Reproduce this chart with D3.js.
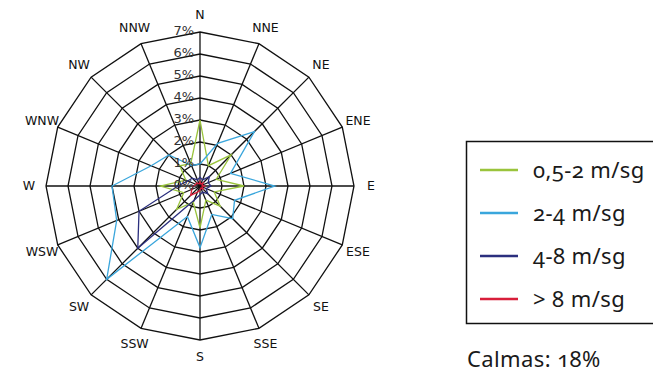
<!DOCTYPE html>
<html>
<head>
<meta charset="utf-8">
<script src="https://cdn.jsdelivr.net/npm/d3@7"></script>
<style>
  body { margin: 0; background: #fff; }
  svg { display: block; }
  .num { font-variant-numeric: oldstyle-nums; font-feature-settings: "onum" 1; }
</style>
</head>
<body>
<div id="chart"></div>
<script>
// direcciones (en sentido horario desde el N)
const directions = ["N","NNE","NE","ENE","E","ESE","SE","SSE","S","SSW","SW","WSW","W","WNW","NW","NNW"];
const tickValues = [0, 1, 2, 3, 4, 5, 6, 7];
const tickLabels = ["0%","1%","2%","3%","4%","5%","6%","7%"];

// frecuencias (%) por direccion
const speed0520 = [3.0, 1.0, 2.0, 0.8, 2.0, 0.7, 1.3, 0.7, 1.9, 0.8, 1.5, 0.8, 1.8, 0.7, 1.3, 1.1];
const speed24   = [1.0, 2.1, 3.5, 1.5, 3.4, 1.7, 2.1, 1.4, 2.8, 1.5, 6.0, 4.1, 4.0, 2.4, 2.0, 1.0];
const speed48   = [0.4, 0.3, 0.6, 0.4, 0.5, 0.3, 0.5, 0.3, 0.4, 0.7, 4.0, 3.0, 1.0, 0.6, 0.5, 0.3];
const speed8    = [0.2, 0.1, 0.2, 0.1, 0.2, 0.1, 0.2, 0.1, 0.2, 0.3, 0.6, 0.4, 0.3, 0.2, 0.2, 0.1];

const seriesNames = ["0,5-2 m/sg", "2-4 m/sg", "4-8 m/sg", "> 8 m/sg"];
const seriesColors = ["#9ac43c", "#3aa6dc", "#2b2f7e", "#d81e3a"];
const calmText = "Calmas: 18%";

const width = 653, height = 374;
const cx = 200, cy = 186, R = 154;

const svg = d3.select("#chart").append("svg")
  .attr("width", width)
  .attr("height", height);

const g = svg.append("g").attr("transform", `translate(${cx},${cy})`);

const r = d3.scaleLinear().domain([0, 7]).range([0, R]);
const angle = d3.scalePoint().domain(directions).range([0, 2 * Math.PI * 15 / 16]);

// anillos poligonales
const ring = d3.lineRadial()
  .angle(d => angle(d))
  .curve(d3.curveLinearClosed);

g.selectAll("path.ring")
  .data(tickValues.filter(v => v > 0))
  .join("path")
  .attr("class", "ring")
  .attr("d", v => ring.radius(r(v))(directions))
  .attr("fill", "none")
  .attr("stroke", "#111")
  .attr("stroke-width", 1.3);

// radios
g.selectAll("line.spoke")
  .data(directions)
  .join("line")
  .attr("class", "spoke")
  .attr("x1", 0).attr("y1", 0)
  .attr("x2", d => r(7) * Math.sin(angle(d)))
  .attr("y2", d => -r(7) * Math.cos(angle(d)))
  .attr("stroke", "#111")
  .attr("stroke-width", 1.3);

// series
const line = d3.lineRadial()
  .angle((d, i) => angle(directions[i]))
  .radius(d => r(d))
  .curve(d3.curveLinearClosed);

const series = [speed0520, speed24, speed48, speed8];
g.selectAll("path.series")
  .data(series)
  .join("path")
  .attr("class", "series")
  .attr("d", d => line(d))
  .attr("fill", "none")
  .attr("stroke", (d, i) => seriesColors[i])
  .attr("stroke-width", 1.3);

// etiquetas de porcentaje
g.selectAll("text.tick")
  .data(tickValues)
  .join("text")
  .attr("class", "tick")
  .attr("x", -6)
  .attr("y", v => -r(v) + 3)
  .attr("text-anchor", "end")
  .attr("font-family", "DejaVu Sans")
  .attr("font-size", 13)
  .attr("fill", "#333")
  .text((v, i) => tickLabels[i]);

// etiquetas de direccion
g.selectAll("text.dir")
  .data(directions)
  .join("text")
  .attr("class", "dir")
  .attr("x", d => 171 * Math.sin(angle(d)))
  .attr("y", d => -171 * Math.cos(angle(d)))
  .attr("dy", "0.35em")
  .attr("text-anchor", "middle")
  .attr("font-family", "DejaVu Sans")
  .attr("font-size", 12.5)
  .attr("fill", "#111")
  .text(d => d);

// leyenda
const legend = svg.append("g");
legend.append("rect")
  .attr("x", 466.5).attr("y", 141.5)
  .attr("width", 190).attr("height", 182)
  .attr("fill", "none")
  .attr("stroke", "#111")
  .attr("stroke-width", 1.5);

const rows = legend.selectAll("g.row")
  .data(seriesNames)
  .join("g")
  .attr("class", "row")
  .attr("transform", (d, i) => `translate(480, ${170 + i * 43})`);

rows.append("line")
  .attr("x1", 0).attr("x2", 38)
  .attr("stroke", (d, i) => seriesColors[i])
  .attr("stroke-width", 2.5);

rows.append("text")
  .attr("class", "num")
  .attr("x", 53)
  .attr("dy", "0.35em")
  .attr("font-family", "Noto Sans")
  .attr("font-size", 22)
  .attr("letter-spacing", 0.4)
  .attr("fill", "#1a1a1a")
  .text(d => d);

svg.append("text")
  .attr("class", "num")
  .attr("x", 467)
  .attr("y", 367)
  .attr("font-family", "Noto Sans")
  .attr("font-size", 22)
  .attr("letter-spacing", 0.4)
  .attr("fill", "#1a1a1a")
  .text(calmText);
</script>
</body>
</html>
